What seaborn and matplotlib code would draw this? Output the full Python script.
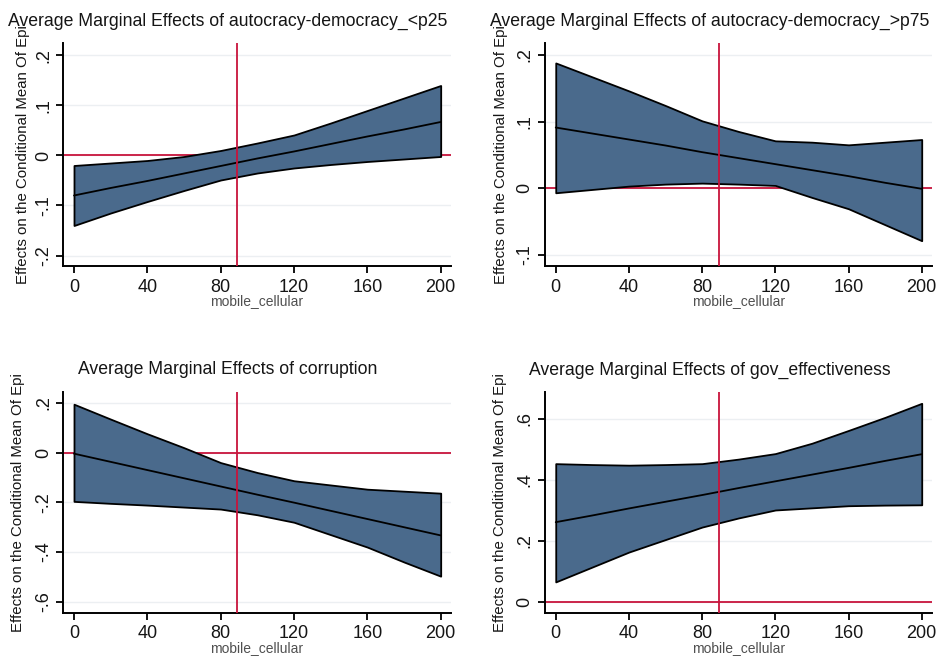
import pandas as pd
import matplotlib
matplotlib.use('Agg')
import matplotlib.pyplot as plt
import seaborn as sns
import numpy as np

# mobile_cellular evaluation points
x_vals = [0, 20, 40, 60, 80, 100, 120, 140, 160, 180, 200]

# autocracy-democracy_<p25
p25_mean = [-0.080, -0.065, -0.051, -0.036, -0.021, -0.006, 0.008, 0.023, 0.038, 0.052, 0.067]
p25_upper = [-0.020, -0.015, -0.010, -0.002, 0.010, 0.025, 0.041, 0.065, 0.090, 0.115, 0.140]
p25_lower = [-0.140, -0.115, -0.092, -0.070, -0.049, -0.035, -0.025, -0.018, -0.012, -0.007, -0.002]

# autocracy-democracy_>p75
p75_mean = [0.091, 0.082, 0.073, 0.064, 0.054, 0.045, 0.036, 0.027, 0.018, 0.008, -0.001]
p75_upper = [0.188, 0.167, 0.146, 0.124, 0.101, 0.085, 0.071, 0.069, 0.065, 0.069, 0.073]
p75_lower = [-0.007, -0.002, 0.003, 0.006, 0.0075, 0.006, 0.004, -0.014, -0.031, -0.055, -0.079]

# corruption
cor_mean = [-0.004, -0.037, -0.070, -0.103, -0.136, -0.169, -0.201, -0.234, -0.267, -0.300, -0.333]
cor_upper = [0.195, 0.135, 0.076, 0.020, -0.040, -0.080, -0.113, -0.130, -0.147, -0.155, -0.163]
cor_lower = [-0.196, -0.204, -0.211, -0.219, -0.227, -0.250, -0.280, -0.330, -0.380, -0.440, -0.497]

# gov_effectiveness
gov_mean = [0.261, 0.283, 0.306, 0.328, 0.350, 0.373, 0.395, 0.417, 0.439, 0.462, 0.484]
gov_upper = [0.453, 0.450, 0.448, 0.450, 0.453, 0.468, 0.486, 0.520, 0.562, 0.605, 0.651]
gov_lower = [0.065, 0.114, 0.163, 0.204, 0.245, 0.275, 0.301, 0.308, 0.315, 0.317, 0.318]

titles = ['Average Marginal Effects of autocracy-democracy_<p25',
          'Average Marginal Effects of autocracy-democracy_>p75',
          'Average Marginal Effects of corruption',
          'Average Marginal Effects of gov_effectiveness']
x_ticks = [0, 40, 80, 120, 160, 200]
y_ticks = [[-0.2, -0.1, 0, 0.1, 0.2],
           [-0.1, 0, 0.1, 0.2],
           [-0.6, -0.4, -0.2, 0, 0.2],
           [0, 0.2, 0.4, 0.6]]
y_limits = [(-0.221, 0.225), (-0.117, 0.218), (-0.644, 0.244), (-0.036, 0.688)]
vline_x = 89

panels = [(p25_mean, p25_lower, p25_upper),
          (p75_mean, p75_lower, p75_upper),
          (cor_mean, cor_lower, cor_upper),
          (gov_mean, gov_lower, gov_upper)]

sns.set_theme(style='white')
plt.rcParams['font.family'] = ['Liberation Sans', 'DejaVu Sans']

fig = plt.figure(figsize=(9.36, 6.56), dpi=100)
# axes boxes (left, bottom, width, height) in figure fractions
boxes = [(0.0673, 0.5945, 0.4145, 0.34),
         (0.582, 0.5945, 0.4137, 0.34),
         (0.0673, 0.066, 0.4145, 0.3364),
         (0.582, 0.066, 0.4137, 0.3364)]
ylabel_x = [-0.103, -0.113, -0.116, -0.116]

band_color = '#4a6a8c'
red = '#c8143c'
ink = '#151515'


def fmt(v):
    # Stata style labels: .2, -.1, 0
    if abs(v) < 1e-9:
        return '0'
    s = f'{v:g}'
    return s.replace('0.', '.')


for i, (mean, lower, upper) in enumerate(panels):
    ax = fig.add_axes(boxes[i])
    df = pd.DataFrame({'mobile_cellular': x_vals, 'mean': mean, 'lower': lower, 'upper': upper})

    for yt in y_ticks[i]:
        ax.axhline(yt, color='#eceff2', lw=1, zorder=0)

    ax.fill_between(df['mobile_cellular'], df['lower'], df['upper'], color=band_color,
                    edgecolor='black', lw=1.3, zorder=2)
    sns.lineplot(data=df, x='mobile_cellular', y='mean', color='black', lw=1.3, ax=ax, zorder=3)
    ax.axhline(0, color=red, lw=1.3, zorder=1)
    ax.axvline(vline_x, color=red, lw=1.3, zorder=4)

    ax.set_xlim(-6, 205.6)
    ax.set_ylim(*y_limits[i])
    ax.set_xticks(x_ticks)
    ax.set_xticklabels([str(t) for t in x_ticks], fontsize=13, color=ink)
    ax.set_yticks(y_ticks[i])
    ax.set_yticklabels([fmt(t) for t in y_ticks[i]], fontsize=13, rotation=90, va='center', color=ink)

    for s in ['top', 'right']:
        ax.spines[s].set_visible(False)
    for s in ['left', 'bottom']:
        ax.spines[s].set_color('black')
        ax.spines[s].set_linewidth(1.4)
    ax.tick_params(axis='x', direction='out', length=5, width=1.3, color='black',
                   bottom=True, pad=4)
    ax.tick_params(axis='y', direction='out', length=5, width=1.3, color='black',
                   left=True, pad=3)

    ax.set_xlabel('mobile_cellular', fontsize=10, color='#505050', labelpad=-1)
    ax.set_ylabel('Effects on the Conditional Mean Of Epi', fontsize=10.8, color=ink, va='center')
    ax.yaxis.set_label_coords(ylabel_x[i], 0.5)

    # titles centred on each panel region
    cx = 228 / 936 if i % 2 == 0 else 710 / 936
    ty = 1 - 21 / 656 if i < 2 else 1 - 370 / 656
    fig.text(cx, ty, titles[i], fontsize=12.7, ha='center', va='center', color=ink)

plt.savefig('out.png', dpi=100)
plt.close()
